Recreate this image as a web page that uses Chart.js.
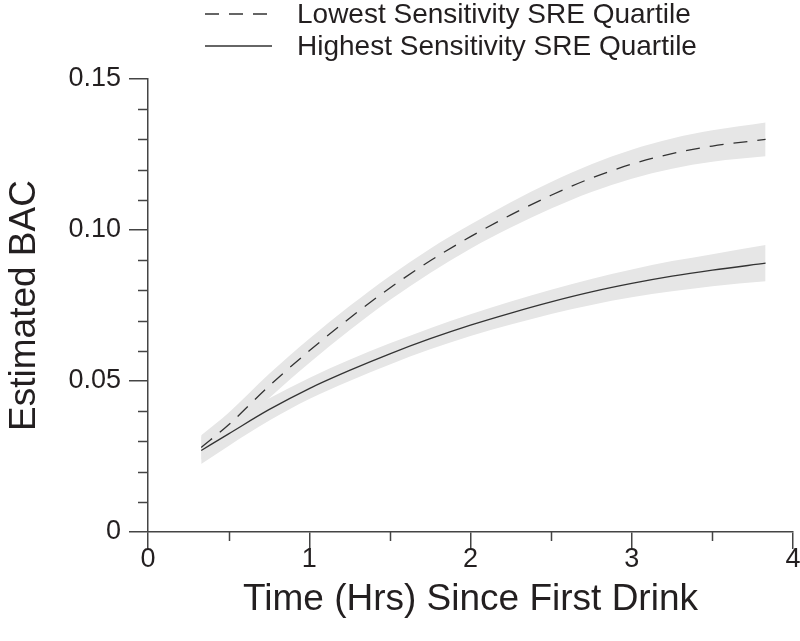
<!DOCTYPE html>
<html>
<head>
<meta charset="utf-8">
<script src="https://cdn.jsdelivr.net/npm/chart.js@4/dist/chart.umd.min.js"></script>
<style>
  html, body { margin: 0; padding: 0; background: #fff; }
  #wrap { width: 800px; height: 641px; position: relative; }
</style>
</head>
<body>
<div id="wrap"><canvas id="bacChart"></canvas></div>
<script>
// hours since first drink
const timeHrs = [0.33, 0.5, 0.75, 1.0, 1.25, 1.5, 1.75, 2.0, 2.25, 2.5, 2.75, 3.0, 3.25, 3.5, 3.83];

// lowest sensitivity quartile: estimate and band
const lowestBac = [0.028, 0.0355, 0.0483, 0.060, 0.0708, 0.0808, 0.0898, 0.0978, 0.1050, 0.1115, 0.1172, 0.1218, 0.1253, 0.1278, 0.1300];
const lowestLower = [0.024, 0.0315, 0.0443, 0.056, 0.0668, 0.0768, 0.0858, 0.0938, 0.1008, 0.1071, 0.1126, 0.1170, 0.1203, 0.1226, 0.1244];
const lowestUpper = [0.032, 0.0395, 0.0523, 0.064, 0.0748, 0.0848, 0.0938, 0.1018, 0.1092, 0.1159, 0.1218, 0.1266, 0.1303, 0.1330, 0.1356];

// highest sensitivity quartile: estimate and band
const highestBac = [0.027, 0.0325, 0.0405, 0.0475, 0.0535, 0.059, 0.064, 0.0685, 0.0725, 0.0762, 0.0795, 0.0823, 0.0847, 0.0867, 0.089];
const highestLower = [0.0225, 0.0285, 0.0368, 0.044, 0.050, 0.0555, 0.0605, 0.0649, 0.0687, 0.0722, 0.0752, 0.0777, 0.0797, 0.0814, 0.083];
const highestUpper = [0.0315, 0.0365, 0.0442, 0.051, 0.057, 0.0625, 0.0675, 0.0721, 0.0763, 0.0802, 0.0838, 0.0869, 0.0897, 0.092, 0.095];

const seriesNames = ["Lowest Sensitivity SRE Quartile", "Highest Sensitivity SRE Quartile"];

const xTicks = [0, 1, 2, 3, 4];
const xTickLabels = ["0", "1", "2", "3", "4"];
const xMinorTicks = [0.5, 1.5, 2.5, 3.5];
const yTicks = [0, 0.05, 0.10, 0.15];
const yTickLabels = ["0", "0.05", "0.10", "0.15"];
const yMinorTicks = [0.01, 0.02, 0.03, 0.04, 0.06, 0.07, 0.08, 0.09, 0.11, 0.12, 0.13, 0.14];

const ink = "#231f20";
const axisInk = "#444";
const bandFill = "#e6e6e6";
const fontFamily = "'Liberation Sans', Arial, sans-serif";

function pts(ys) {
  return timeHrs.map((x, i) => ({ x: x, y: ys[i] }));
}

function band(ys, fill) {
  return {
    data: pts(ys),
    borderWidth: 0,
    pointRadius: 0,
    backgroundColor: bandFill,
    fill: fill,
    order: 2,
    cubicInterpolationMode: "monotone",
  };
}

// minor ticks and the legend drawn on top
const extrasPlugin = {
  id: "extras",
  afterDraw(chart) {
    const ctx = chart.ctx;
    const xs = chart.scales.x;
    const ys = chart.scales.y;
    ctx.save();
    ctx.strokeStyle = axisInk;
    ctx.lineWidth = 1.5;
    ctx.beginPath();
    yMinorTicks.forEach(v => {
      const py = Math.round(ys.getPixelForValue(v)) + 0.5;
      ctx.moveTo(xs.left - 10, py);
      ctx.lineTo(xs.left, py);
    });
    xMinorTicks.forEach(v => {
      const px = Math.round(xs.getPixelForValue(v)) + 0.5;
      ctx.moveTo(px, ys.bottom);
      ctx.lineTo(px, ys.bottom + 9);
    });
    ctx.stroke();

    // legend
    const lines = [chart.data.datasets[4], chart.data.datasets[5]];
    const rowY = [14, 46];
    ctx.font = "28px " + fontFamily;
    ctx.textBaseline = "middle";
    ctx.textAlign = "left";
    lines.forEach((ds, i) => {
      ctx.strokeStyle = ds.borderColor;
      ctx.lineWidth = ds.borderWidth;
      ctx.setLineDash(ds.borderDash || []);
      ctx.beginPath();
      ctx.moveTo(205, rowY[i]);
      ctx.lineTo(272, rowY[i]);
      ctx.stroke();
      ctx.setLineDash([]);
      ctx.fillStyle = ink;
      ctx.fillText(ds.label, 297, rowY[i] + 1);
    });
    ctx.restore();
  },
};

new Chart(document.getElementById("bacChart"), {
  type: "line",
  data: {
    datasets: [
      band(lowestLower, false),
      band(lowestUpper, "-1"),
      band(highestLower, false),
      band(highestUpper, "-1"),
      {
        label: seriesNames[0],
        data: pts(lowestBac),
        borderColor: "#333",
        borderWidth: 1.3,
        borderDash: [14, 10],
        pointRadius: 0,
        fill: false,
        order: 0,
        cubicInterpolationMode: "monotone",
      },
      {
        label: seriesNames[1],
        data: pts(highestBac),
        borderColor: "#333",
        borderWidth: 1.3,
        pointRadius: 0,
        fill: false,
        order: 0,
        cubicInterpolationMode: "monotone",
      },
    ],
  },
  options: {
    responsive: true,
    maintainAspectRatio: false,
    animation: false,
    layout: { padding: { top: 79, right: 7, left: 0, bottom: 0 } },
    plugins: {
      legend: { display: false },
      tooltip: { enabled: false },
    },
    scales: {
      x: {
        type: "linear",
        min: 0,
        max: 4,
        afterFit: s => { s.height = 109; },
        afterBuildTicks: s => { s.ticks = xTicks.map(v => ({ value: v })); },
        ticks: {
          callback: (v, i) => xTickLabels[i],
          color: ink,
          font: { family: fontFamily, size: 27 },
          padding: -6,
          maxRotation: 0,
        },
        grid: { drawOnChartArea: false, drawTicks: true, tickLength: 17, color: axisInk, lineWidth: 1.5 },
        border: { display: true, color: axisInk, width: 1.5 },
        title: {
          display: true,
          text: "Time (Hrs) Since First Drink",
          color: ink,
          font: { family: fontFamily, size: 37 },
          padding: { top: 0, bottom: 19 },
        },
      },
      y: {
        min: 0,
        max: 0.15,
        afterFit: s => { s.width = 148; },
        afterBuildTicks: s => { s.ticks = yTicks.map(v => ({ value: v })); },
        ticks: {
          callback: (v, i) => yTickLabels[i],
          color: ink,
          font: { family: fontFamily, size: 27 },
          padding: 8,
        },
        grid: { drawOnChartArea: false, drawTicks: true, tickLength: 19, color: axisInk, lineWidth: 1.5 },
        border: { display: true, color: axisInk, width: 1.5 },
        title: {
          display: true,
          text: "Estimated BAC",
          color: ink,
          font: { family: fontFamily, size: 37 },
          padding: { top: 3, bottom: 0 },
        },
      },
    },
  },
  plugins: [extrasPlugin],
});
</script>
</body>
</html>
